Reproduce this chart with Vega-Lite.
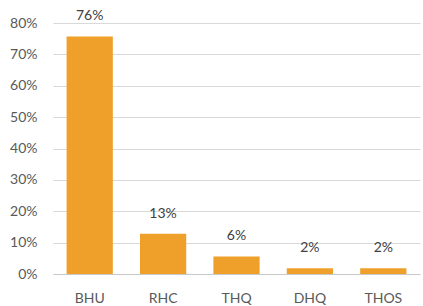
{
  "$schema": "https://vega.github.io/schema/vega-lite/v6.json",
  "width": 367,
  "height": 251,
  "autosize": {"type": "none"},
  "padding": {"left": 53, "top": 23, "right": 3, "bottom": 32},
  "background": "white",
  "config": {"view": {"stroke": null}, "font": "Lato"},
  "data": {"values": [
    {"category": "BHU", "share": 0.757},
    {"category": "RHC", "share": 0.128},
    {"category": "THQ", "share": 0.056},
    {"category": "DHQ", "share": 0.018},
    {"category": "THOS", "share": 0.018}
  ]},
  "encoding": {
    "x": {"field": "category", "type": "nominal", "sort": null,
      "scale": {"paddingInner": 0.37, "paddingOuter": 0.185},
      "axis": {"title": null, "labelAngle": 0, "labelFontSize": 14, "labelColor": "#595959", "labelPadding": 17,
        "domainColor": "#c8c8c8", "ticks": false, "grid": false}},
    "y": {"field": "share", "type": "quantitative",
      "scale": {"domain": [0, 0.8], "nice": false},
      "axis": {"title": null, "format": ".0%", "values": [0,0.1,0.2,0.3,0.4,0.5,0.6,0.7,0.8],
        "labelOverlap": false, "labelFontSize": 14, "labelColor": "#595959", "labelPadding": 16,
        "domain": false, "ticks": false, "gridColor": "#d9d9d9"}}
  },
  "layer": [
    {"mark": {"type": "bar", "color": "#EFA02A"}},
    {"mark": {"type": "text", "baseline": "bottom", "dy": -13, "fontSize": 14, "color": "#404040"},
      "encoding": {"text": {"field": "share", "type": "quantitative", "format": ".0%"}}}
  ]
}
